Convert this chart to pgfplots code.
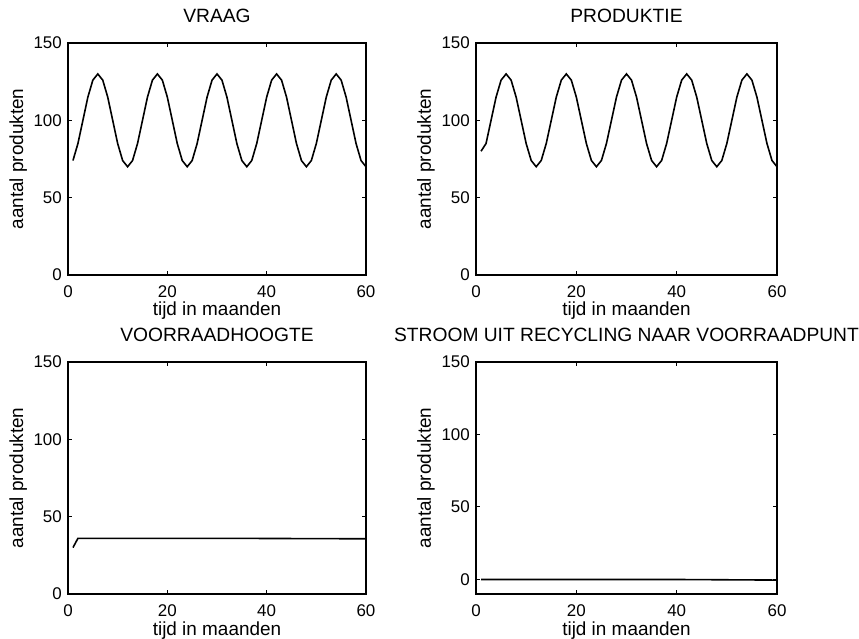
\documentclass[border=0pt]{standalone}
\usepackage{fontspec}
\setmainfont{Liberation Sans}
\usepackage{pgfplots}
\pgfplotsset{compat=1.18}
\pgfplotsset{
  mat/.style={
    scale only axis,
    anchor=south west,
    font=\fontsize{19}{22}\selectfont,
    /pgf/number format/assume math mode=true,
    axis line style={line width=1.2bp},
    tick style={line width=1bp, black},
    major tick length=4bp,
    tick align=inside,
    tick pos=both,
    xmin=0, xmax=60,
    xtick={0,20,40,60},
    ytick={0,50,100,150},
    ticklabel style={font=\fontsize{17}{20}\selectfont},
    xticklabel style={anchor=north, inner sep=0pt, yshift=-10bp},
    yticklabel style={anchor=east, inner sep=0pt, xshift=-6bp},
    xlabel={tijd in maanden},
    ylabel={aantal produkten},
    xlabel style={at={(axis description cs:0.5,0)}, anchor=base, inner sep=0pt, yshift=-41bp},
    ylabel style={at={(axis description cs:-0.137,0.5)}, rotate=0, anchor=south, inner sep=0pt},
    title style={at={(axis description cs:0.5,1)}, anchor=base, inner sep=0pt, yshift=15bp, font=\fontsize{19.3}{22}\selectfont},
  }
}
\begin{document}
\begin{tikzpicture}
\useasboundingbox (0,0) rectangle (859bp,639bp);
% VRAAG
\begin{axis}[mat, at={(68bp,364bp)}, width=298bp, height=232bp, ymin=0, ymax=150, title={VRAAG}]
\addplot[black, line width=1.6bp, mark=none] coordinates {
(1,74.02)(2,85)(3,100)(4,115)(5,125.98)(6,130)(7,125.98)(8,115)(9,100)(10,85)(11,74.02)(12,70)
(13,74.02)(14,85)(15,100)(16,115)(17,125.98)(18,130)(19,125.98)(20,115)(21,100)(22,85)(23,74.02)(24,70)
(25,74.02)(26,85)(27,100)(28,115)(29,125.98)(30,130)(31,125.98)(32,115)(33,100)(34,85)(35,74.02)(36,70)
(37,74.02)(38,85)(39,100)(40,115)(41,125.98)(42,130)(43,125.98)(44,115)(45,100)(46,85)(47,74.02)(48,70)
(49,74.02)(50,85)(51,100)(52,115)(53,125.98)(54,130)(55,125.98)(56,115)(57,100)(58,85)(59,74.02)(60,70)
};
\end{axis}
% PRODUKTIE
\begin{axis}[mat, at={(476bp,364bp)}, width=301bp, height=232bp, ymin=0, ymax=150, title={PRODUKTIE},
  ylabel style={at={(axis description cs:-0.136,0.5)}}]
\addplot[black, line width=1.6bp, mark=none] coordinates {
(1,80)(2,85)(3,100)(4,115)(5,125.98)(6,130)(7,125.98)(8,115)(9,100)(10,85)(11,74.02)(12,70)
(13,74.02)(14,85)(15,100)(16,115)(17,125.98)(18,130)(19,125.98)(20,115)(21,100)(22,85)(23,74.02)(24,70)
(25,74.02)(26,85)(27,100)(28,115)(29,125.98)(30,130)(31,125.98)(32,115)(33,100)(34,85)(35,74.02)(36,70)
(37,74.02)(38,85)(39,100)(40,115)(41,125.98)(42,130)(43,125.98)(44,115)(45,100)(46,85)(47,74.02)(48,70)
(49,74.02)(50,85)(51,100)(52,115)(53,125.98)(54,130)(55,125.98)(56,115)(57,100)(58,85)(59,74.02)(60,70)
};
\end{axis}
% VOORRAADHOOGTE
\begin{axis}[mat, at={(68bp,45bp)}, width=298bp, height=232bp, ymin=0, ymax=150, title={VOORRAADHOOGTE}]
\addplot[black, line width=1.6bp, mark=none] coordinates {
(1,30)(2,36)(10,36)(20,36)(30,36)(40,35.9)(50,35.8)(60,35.7)
};
\end{axis}
% STROOM
\begin{axis}[mat, at={(476bp,45bp)}, width=301bp, height=232bp, ymin=-10, ymax=150, title={STROOM UIT RECYCLING NAAR VOORRAADPUNT},
  ylabel style={at={(axis description cs:-0.136,0.5)}}]
\addplot[black, line width=1.6bp, mark=none] coordinates {
(1,0)(10,0)(20,0)(30,0)(40,0)(50,-0.2)(60,-0.4)
};
\end{axis}
\end{tikzpicture}
\end{document}
